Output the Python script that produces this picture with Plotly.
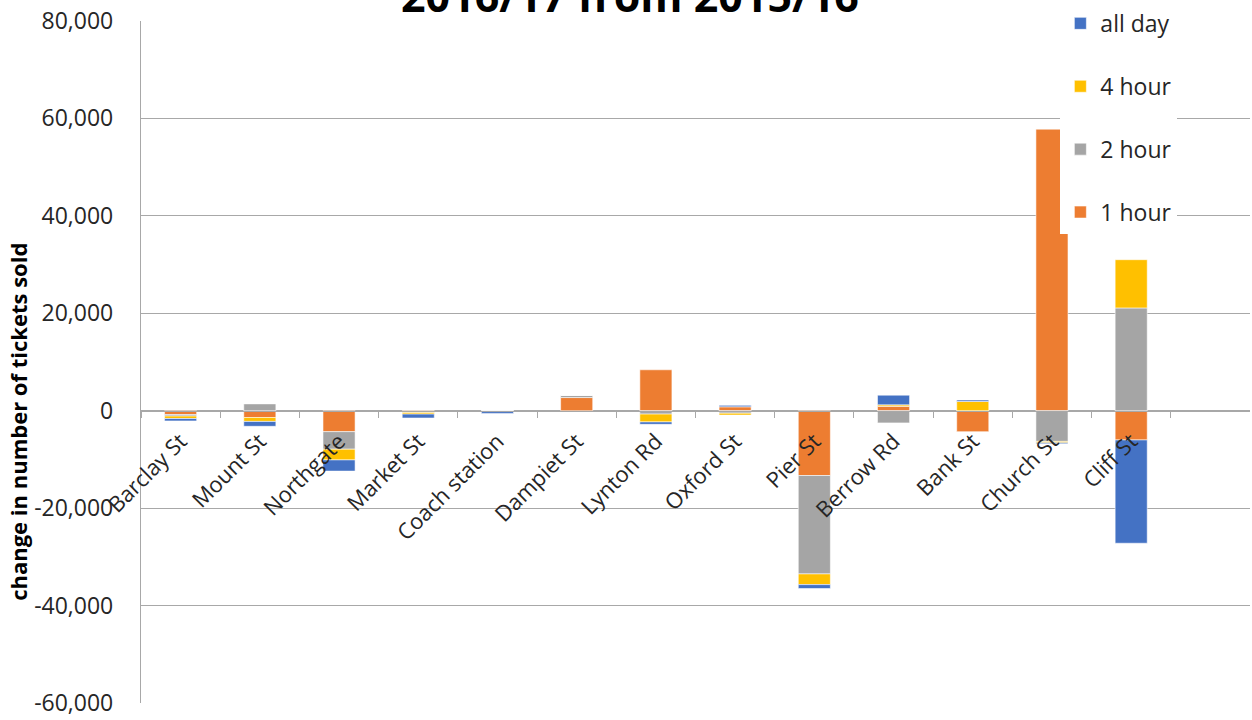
import plotly.graph_objects as go

# Car parks, in chart order
car_parks = ["Barclay St", "Mount St", "Northgate", "Market St", "Coach station",
             "Dampiet St", "Lynton Rd", "Oxford St", "Pier St", "Berrow Rd",
             "Bank St", "Church St", "Cliff St"]

# Change in tickets sold, 2016/17 vs 2015/16, by ticket type
one_hour = [-800, -1400, -4300, -100, 0, 2700, 8400, 800, -13300, 900, -4300, 57800, -6000]
two_hour = [-300, 1400, -3600, -250, -150, 450, -700, -500, -20200, -2500, 0, -6300, 21100]
four_hour = [-500, -800, -2200, -350, 0, 0, -1600, -400, -2200, 300, 1900, -300, 9900]
all_day = [-500, -1000, -2300, -800, -400, 0, -500, 300, -800, 2000, 300, -200, -21200]

series_names = ["1 hour", "2 hour", "4 hour", "all day"]
series_colors = ["#ED7D31", "#A5A5A5", "#FFC000", "#4472C4"]
legend_ranks = [4, 3, 2, 1]  # legend lists "all day" first

y_tick_values = [-60000, -40000, -20000, 0, 20000, 40000, 60000, 80000]
y_tick_labels = ["-60,000", "-40,000", "-20,000", "0", "20,000", "40,000", "60,000", "80,000"]

FONT = "Open Sans"
Y_MIN, Y_MAX = -60000, 80000

fig = go.Figure()
for name, values, color, rank in zip(series_names, [one_hour, two_hour, four_hour, all_day],
                                     series_colors, legend_ranks):
    fig.add_trace(go.Bar(
        x=car_parks, y=values, name=name, legendgroup=name, legendrank=rank,
        marker=dict(color=color, line=dict(color="rgba(255,255,255,0.7)", width=0.8)),
    ))

fig.update_layout(
    width=1252, height=720,
    margin=dict(l=141, r=2, t=19, b=17),
    paper_bgcolor="white", plot_bgcolor="white",
    barmode="relative", bargap=0.595,
    font=dict(family=FONT, color="#262626"),
    showlegend=True,
    legend=dict(
        x=0.829, xanchor="left", y=1.028, yanchor="top",
        bgcolor="white", borderwidth=0,
        font=dict(size=23, family=FONT, color="#262626"),
        traceorder="grouped", tracegroupgap=30,
    ),
    xaxis=dict(
        type="category", range=[-0.5, 13.5],
        anchor="free", position=(0 - Y_MIN) / (Y_MAX - Y_MIN),
        showline=True, linecolor="#a8a8a8", linewidth=1.3,
        ticks="outside", tickson="boundaries", ticklen=6, tickcolor="#a8a8a8", tickwidth=1.3,
        tickangle=-45, tickfont=dict(size=22, family=FONT, color="#262626"),
        ticklabelstandoff=8,
        showgrid=False, automargin=False,
    ),
    yaxis=dict(
        range=[Y_MIN, Y_MAX],
        tickvals=y_tick_values, ticktext=y_tick_labels,
        tickfont=dict(size=23, family=FONT, color="#262626"),
        showgrid=True, gridcolor="#a8a8a8", gridwidth=1.3,
        zeroline=True, zerolinecolor="#a8a8a8", zerolinewidth=1.3,
        showline=True, linecolor="#a8a8a8", linewidth=1.3,
        ticks="", ticklabelstandoff=22, automargin=False,
    ),
    annotations=[
        dict(text="<b>2016/17 from 2015/16</b>", xref="paper", yref="paper",
             x=(630 - 141) / 1109, y=1 - (25 - 19) / 684, xanchor="center", yanchor="bottom",
             showarrow=False, font=dict(size=43, family=FONT, color="black")),
        dict(text="<b>change in number of tickets sold</b>", xref="paper", yref="paper",
             x=(18 - 141) / 1109, y=(703 - 421) / 684, xanchor="center", yanchor="middle",
             textangle=-90, showarrow=False, font=dict(size=22, family=FONT, color="black")),
    ],
)

fig.write_html("out.html")
